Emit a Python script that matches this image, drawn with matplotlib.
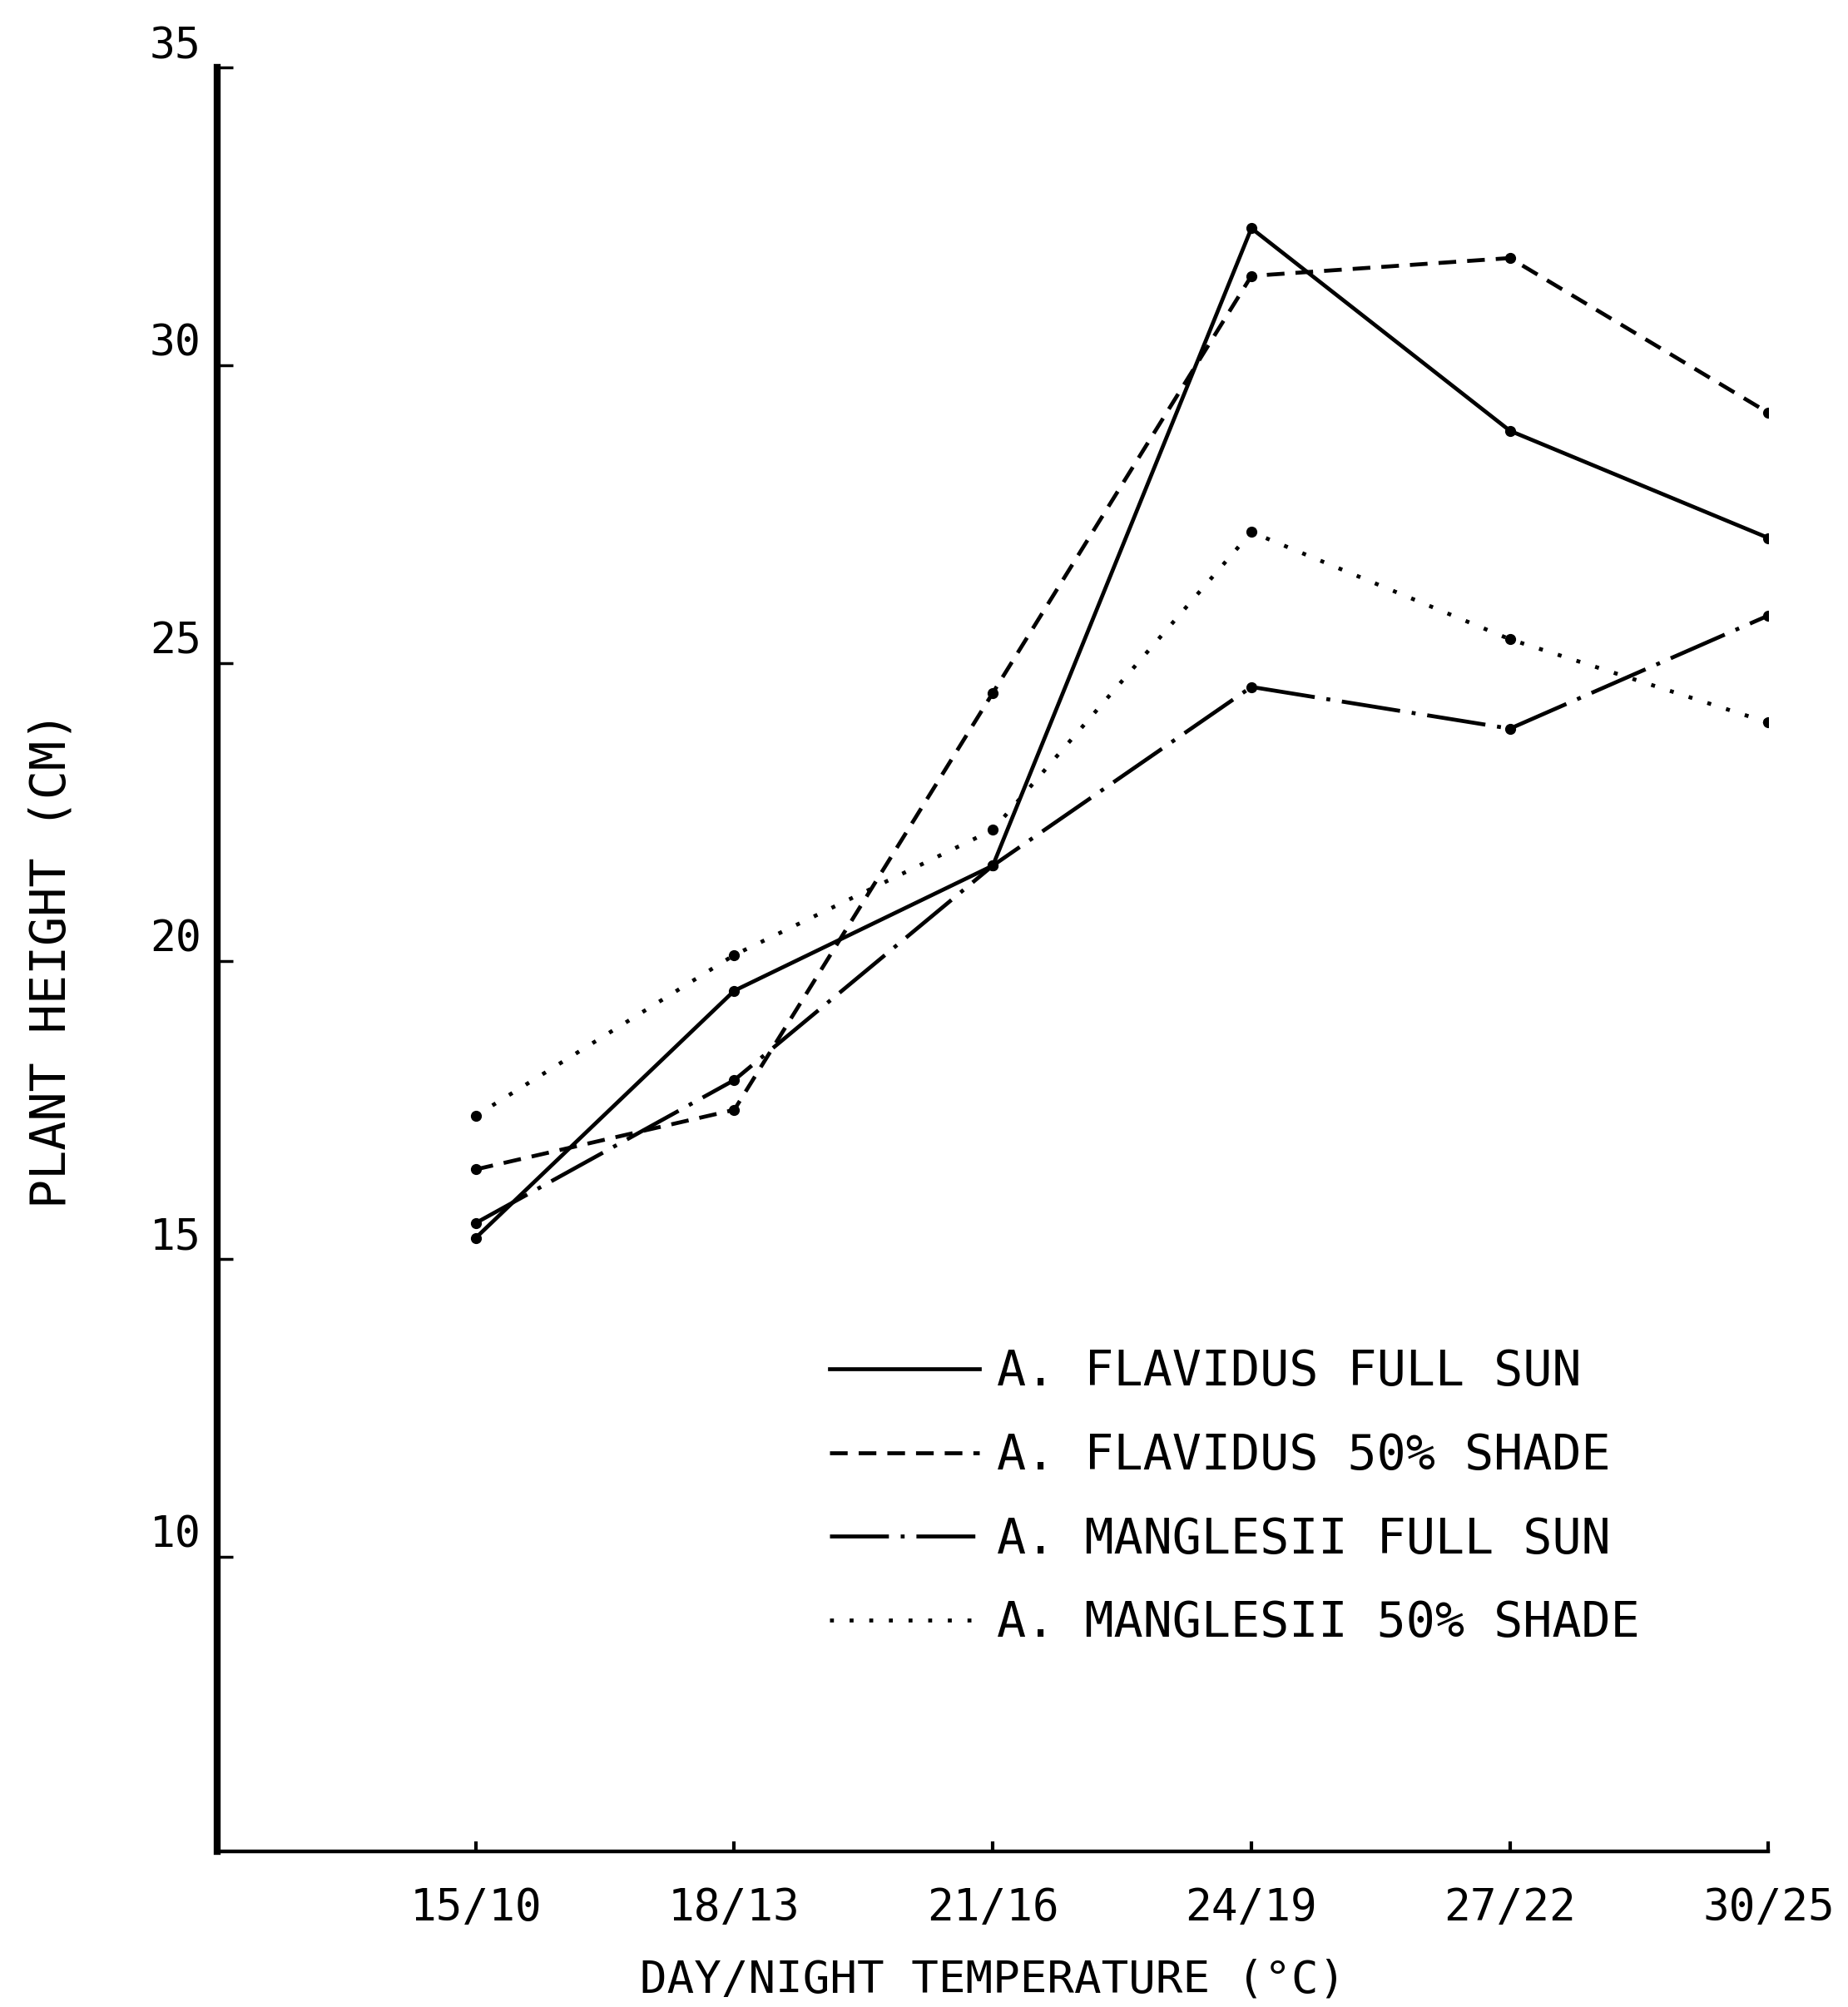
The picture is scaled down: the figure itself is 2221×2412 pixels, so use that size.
import numpy as np
from matplotlib import pyplot as plt
from matplotlib.lines import Line2D

plt.rcParams['font.family'] = ['DejaVu Sans Mono', 'DejaVu Sans']

# day/night temperature categories
temps = ['15/10', '18/13', '21/16', '24/19', '27/22', '30/25']

# plant height (cm)
flav_sun = [15.35, 19.5, 21.6, 32.3, 28.9, 27.1]
flav_shade = [16.5, 17.5, 24.5, 31.5, 31.8, 29.2]
mang_sun = [15.6, 18.0, 21.6, 24.6, 23.9, 25.8]
mang_shade = [17.4, 20.1, 22.2, 27.2, 25.4, 24.0]

labels = ['A. FLAVIDUS FULL SUN', 'A. FLAVIDUS 50% SHADE',
          'A. MANGLESII FULL SUN', 'A. MANGLESII 50% SHADE']

yticks = [10, 15, 20, 25, 30, 35]

fig = plt.figure(figsize=(22.21, 24.12), dpi=100)
ax = fig.add_axes([0.1175, 0.0775, 0.8395, 0.8889])

x = np.arange(1, len(temps) + 1)
lw = 3.4
styles = [
    dict(linestyle='-'),
    dict(linestyle=(0, (4.5, 2.8))),
    dict(linestyle=(0, (15, 3, 1, 3))),
    dict(linestyle=(0, (1, 4))),
]
series = [flav_sun, flav_shade, mang_sun, mang_shade]
handles = []
for ys, st, lab in zip(series, styles, labels):
    ax.plot(x, ys, color='black', lw=lw, **st)
    ax.plot(x, ys, 'o', color='black', ms=8.5)
    handles.append(Line2D([], [], color='black', lw=lw, **st))

ax.set_xlim(0, 6)
ax.set_ylim(5.05, 35)
ax.set_xticks(x)
ax.set_xticklabels(temps)
ax.set_yticks(yticks)
ax.set_yticklabels([str(t) for t in yticks])

ax.spines['top'].set_visible(False)
ax.spines['right'].set_visible(False)
ax.spines['left'].set_linewidth(6)
ax.spines['bottom'].set_linewidth(3.2)
ax.tick_params(axis='y', direction='in', length=14, width=2.5, pad=14, labelsize=37)
ax.tick_params(axis='x', direction='in', length=9, width=3, pad=30, labelsize=38)
plt.setp(ax.get_yticklabels(), va='bottom')

ax.set_ylabel('PLANT HEIGHT (CM)', fontsize=42, labelpad=64)
ax.set_xlabel('DAY/NIGHT TEMPERATURE (°C)', fontsize=39, labelpad=25)

ax.legend(handles, labels, loc='upper left', bbox_to_anchor=(0.382, 0.293),
          frameon=False, fontsize=42, handlelength=3.1, handletextpad=0.35,
          labelspacing=0.75, borderaxespad=0)

fig.savefig('out.png', dpi=100)
